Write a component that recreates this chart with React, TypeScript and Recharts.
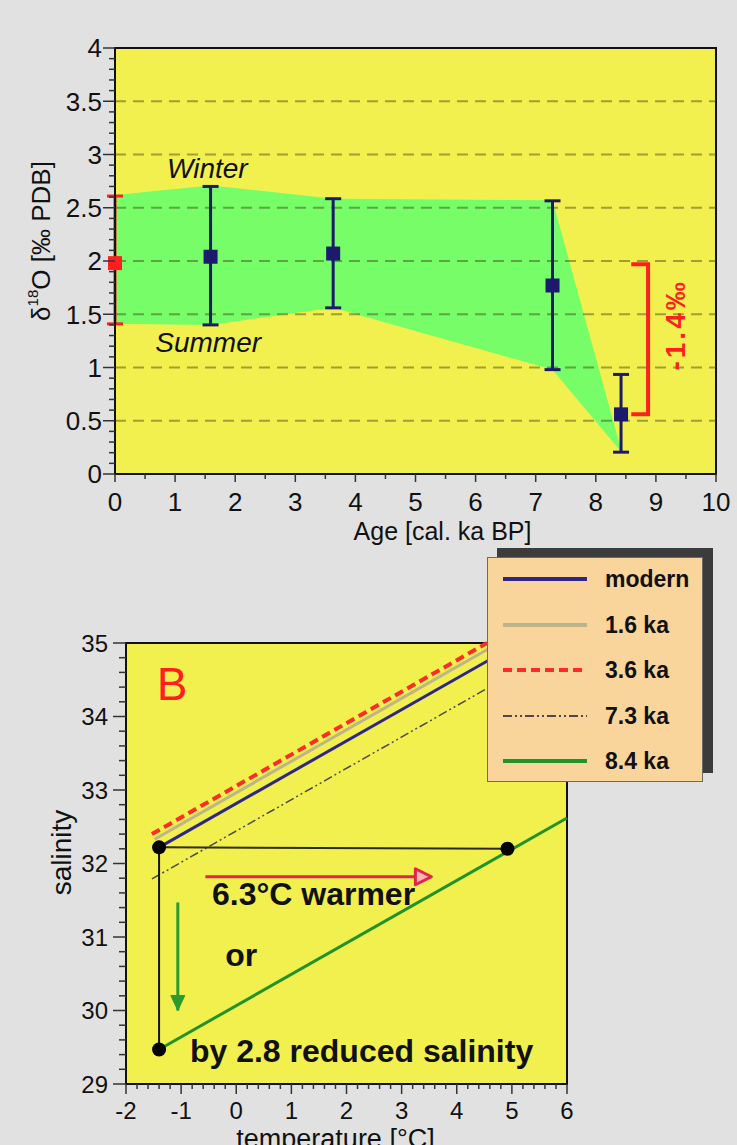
import {
  ComposedChart,
  XAxis,
  YAxis,
  CartesianGrid,
  Area,
  Line,
  Scatter,
  ErrorBar,
  ReferenceLine,
  ReferenceArea,
  ReferenceDot,
  Legend,
} from 'recharts'

// ---- panel A: d18O through the Holocene ----
const ages = [0, 1.59, 3.63, 7.28, 8.42]
const d18O = [1.98, 2.04, 2.07, 1.77, 0.56]
const d18OLow = [1.41, 1.4, 1.56, 0.98, 0.205]
const d18OHigh = [2.61, 2.7, 2.585, 2.565, 0.935]
// winter / summer envelope
const bandLow = [1.41, 1.4, 1.56, 0.98, 0.21]
const bandHigh = [2.62, 2.71, 2.585, 2.57, 0.23]

const bracketAge = [8.59, 8.87, 8.87, 8.59]
const bracketD18O = [1.97, 1.97, 0.56, 0.56]

const ageTicks = [0, 1, 2, 3, 4, 5, 6, 7, 8, 9, 10]
const d18OTicks = [0, 0.5, 1, 1.5, 2, 2.5, 3, 3.5, 4]
const d18OGrid = [0.5, 1, 1.5, 2, 2.5, 3, 3.5]

// ---- panel B: salinity vs temperature ----
const tempTicks = [-2, -1, 0, 1, 2, 3, 4, 5, 6]
const salTicks = [29, 30, 31, 32, 33, 34, 35]

const lineNames = ['modern', '1.6 ka', '3.6 ka', '7.3 ka', '8.4 ka']
const lineTemp = [[-1.4, 5.13], [-1.48, 4.76], [-1.53, 4.55], [-1.53, 6], [-1.4, 6]]
const lineSal = [[32.22, 35], [32.33, 35], [32.4, 35], [31.79, 35], [29.47, 32.62]]

const dotTemp = [-1.4, 4.92, -1.4]
const dotSal = [32.22, 32.2, 29.47]
const hTemp = [-1.4, 4.92]
const hSal = [32.22, 32.2]
const vTemp = [-1.4, -1.4]
const vSal = [32.22, 29.47]
const warmTemp = [-0.56, 3.54]
const warmSal = [31.82, 31.82]
const freshTemp = [-1.06, -1.06]
const freshSal = [31.47, 30.0]

const FONT = "'Liberation Sans', Arial, Helvetica, sans-serif"
const YELLOW = '#f2f04e'
const GREEN = '#76fd67'
const NAVY = '#1c1a6c'
const RED = '#ff1f1f'

const lineStyles = [
  { stroke: '#2e2688', width: 3, legendWidth: 4, dash: undefined as string | undefined },
  { stroke: '#bdb38c', width: 3, legendWidth: 4, dash: undefined },
  { stroke: '#ff2a2a', width: 4, legendWidth: 4, dash: '9 5' },
  { stroke: '#4a4a4a', width: 1.5, legendWidth: 2, dash: '9 3 2 3 2 3' },
  { stroke: '#22922a', width: 3, legendWidth: 4, dash: undefined },
]

const steps = (from: number, to: number, step: number) => {
  const n = Math.round((to - from) / step)
  const out: number[] = []
  for (let i = 0; i <= n; i++) out.push(Math.round((from + i * step) * 1000) / 1000)
  return out
}

const isMajor = (v: number, majors: number[]) => majors.some((m) => Math.abs(m - v) < 1e-6)

function makeYTick(majors: number[], fontSize: number, gap: number, major: number, minor: number) {
  return function YTick(props: any) {
    const { x, y, payload } = props
    const big = isMajor(payload.value, majors)
    return (
      <g>
        <line x1={x - (big ? major : minor)} x2={x} y1={y} y2={y} stroke="#333" strokeWidth={1.5} />
        {big && (
          <text x={x - gap} y={y} dy="0.36em" textAnchor="end" fontSize={fontSize} fill="#111">
            {payload.value}
          </text>
        )}
      </g>
    )
  }
}

function makeXTick(majors: number[], fontSize: number, base: number, major: number, minor: number) {
  return function XTick(props: any) {
    const { x, y, payload } = props
    const big = isMajor(payload.value, majors)
    return (
      <g>
        <line x1={x} x2={x} y1={y} y2={y + (big ? major : minor)} stroke="#333" strokeWidth={1.5} />
        {big && (
          <text x={x} y={y + base} textAnchor="middle" fontSize={fontSize} fill="#111">
            {payload.value}
          </text>
        )}
      </g>
    )
  }
}

const textAt = (label: string, attrs: any) => (p: any) => (
  <text x={p.cx} y={p.cy} fontFamily={FONT} {...attrs}>
    {label}
  </text>
)

const rotatedAt = (label: string, attrs: any) => (p: any) => (
  <text
    x={p.cx}
    y={p.cy}
    transform={`rotate(-90 ${p.cx} ${p.cy})`}
    textAnchor="middle"
    dominantBaseline="central"
    fontFamily={FONT}
    {...attrs}
  >
    {label}
  </text>
)

function arrowDot(color: string, dir: 'right' | 'down') {
  return (props: any) => {
    const { cx, cy, index } = props
    if (index !== 1) return <g key={`n${index}`} />
    const d =
      dir === 'right'
        ? `M${cx},${cy} L${cx - 16},${cy - 8} L${cx - 16},${cy + 8} Z`
        : `M${cx},${cy} L${cx - 7},${cy - 15} L${cx + 7},${cy - 15} Z`
    return dir === 'right' ? (
      <path key="head" d={d} fill="#f7b7b0" stroke={color} strokeWidth={3} strokeLinejoin="round" />
    ) : (
      <path key="head" d={d} fill={color} stroke={color} strokeWidth={1} />
    )
  }
}

function LegendBox(props: any) {
  const all = (props.payload ?? []) as any[]
  const items = lineNames
    .map((n) => all.find((it) => it.value === n))
    .filter(Boolean) as any[]
  return (
    <div style={{ position: 'relative', width: 216, height: 225, fontFamily: FONT }}>
      <div style={{ position: 'absolute', left: 10, top: -9, width: 216, height: 225, background: '#3b3b3b' }} />
      <div
        style={{
          position: 'absolute',
          left: 0,
          top: 0,
          width: 214,
          height: 223,
          background: '#f9d49b',
          border: '1px solid #6a6a6a',
        }}
      >
        {items.map((it, i) => {
          const st = lineStyles[lineNames.indexOf(it.value)]
          return (
            <div
              key={it.value}
              style={{ position: 'absolute', left: 15, top: 21 + i * 45.5 - 14, height: 28, display: 'flex', alignItems: 'center' }}
            >
              <svg width={84} height={8}>
                <line x1={0} y1={4} x2={84} y2={4} stroke={st.stroke} strokeWidth={st.legendWidth} strokeDasharray={st.dash} />
              </svg>
              <span style={{ marginLeft: 18, fontSize: 23, fontWeight: 700, color: '#111', lineHeight: '28px' }}>{it.value}</span>
            </div>
          )
        })}
      </div>
    </div>
  )
}

const bandRows = ages.map((a, i) => ({ age: a, band: [bandLow[i], bandHigh[i]] }))
const pointRows = ages.map((a, i) => ({ age: a, v: d18O[i], err: [d18O[i] - d18OLow[i], d18OHigh[i] - d18O[i]] }))
const bracketRows = bracketAge.map((a, i) => ({ age: a, v: bracketD18O[i] }))
const pair = (t: number[], s: number[]) => t.map((x, i) => ({ t: x, s: s[i] }))

const ageAll = steps(0, 10, 0.5)
const d18OAll = steps(0, 4, 0.1)
const tempAll = steps(-2, 6, 0.2)
const salAll = steps(29, 35, 0.2)

export default function App() {
  return (
    <div
      style={{
        position: 'absolute',
        left: 0,
        top: 0,
        width: 737,
        height: 1145,
        background: '#e1e1e1',
        overflow: 'hidden',
        fontFamily: FONT,
      }}
    >
      <div style={{ position: 'absolute', left: 0, top: 0 }}>
        <ComposedChart width={737} height={560} data={bandRows} margin={{ top: 48, right: 21, bottom: 16, left: 15 }}>
          <CartesianGrid fill={YELLOW} horizontal={false} vertical={false} />
          <XAxis
            dataKey="age"
            type="number"
            domain={[0, 10]}
            ticks={ageAll}
            interval={0}
            tickSize={0}
            tickMargin={0}
            tickLine={false}
            axisLine={{ stroke: '#111', strokeWidth: 2 }}
            tick={makeXTick(ageTicks, 26, 37, 8, 5)}
            height={70}
            label={{
              content: (p: any) => {
                const vb = p.viewBox ?? { x: 115, y: 474, width: 601, height: 70 }
                return (
                  <text x={vb.x + vb.width / 2 + 27} y={vb.y + 66} textAnchor="middle" fontSize={25} fill="#111">
                    Age [cal. ka BP]
                  </text>
                )
              },
            }}
          />
          <YAxis
            type="number"
            domain={[0, 4]}
            ticks={d18OAll}
            interval={0}
            tickSize={0}
            tickMargin={0}
            tickLine={false}
            axisLine={{ stroke: '#111', strokeWidth: 2 }}
            tick={makeYTick(d18OTicks, 26, 13, 12, 6)}
            width={100}
            label={{
              content: (p: any) => {
                const vb = p.viewBox ?? { x: 15, y: 48, width: 100, height: 426 }
                const cx = vb.x + 26
                const cy = vb.y + vb.height / 2 - 20
                return (
                  <text
                    x={cx}
                    y={cy}
                    transform={`rotate(-90 ${cx} ${cy})`}
                    textAnchor="middle"
                    dominantBaseline="central"
                    fontSize={26}
                    fill="#111"
                  >
                    δ<tspan dy={-9} fontSize={15}>18</tspan>
                    <tspan dy={9}>O [‰ PDB]</tspan>
                  </text>
                )
              },
            }}
          />
          <Area dataKey="band" type="linear" fill={GREEN} fillOpacity={1} stroke="none" isAnimationActive={false} />
          {d18OGrid.map((v) => (
            <ReferenceLine key={v} y={v} stroke="rgba(60,60,20,0.45)" strokeWidth={2} strokeDasharray="11 7" />
          ))}
          <Line
            data={bracketRows}
            dataKey="v"
            stroke={RED}
            strokeWidth={4}
            dot={false}
            legendType="none"
            isAnimationActive={false}
          />
          <Scatter
            data={pointRows.slice(0, 1)}
            dataKey="v"
            fill={RED}
            isAnimationActive={false}
            shape={(p: any) => <rect x={p.cx - 7} y={p.cy - 7} width={14} height={14} fill={RED} />}
          >
            <ErrorBar dataKey="err" direction="y" width={8} stroke={RED} strokeWidth={3} />
          </Scatter>
          <Scatter
            data={pointRows.slice(1)}
            dataKey="v"
            fill={NAVY}
            isAnimationActive={false}
            shape={(p: any) => <rect x={p.cx - 7} y={p.cy - 7} width={14} height={14} fill={NAVY} />}
          >
            <ErrorBar dataKey="err" direction="y" width={8} stroke={NAVY} strokeWidth={3} />
          </Scatter>
          <ReferenceDot x={0.865} y={2.78} r={0} shape={textAt('Winter', { fontSize: 28, fontStyle: 'italic', fill: '#111' })} />
          <ReferenceDot x={0.67} y={1.15} r={0} shape={textAt('Summer', { fontSize: 28, fontStyle: 'italic', fill: '#111' })} />
          <ReferenceDot
            x={9.32}
            y={1.4}
            r={0}
            shape={rotatedAt('-1.4‰', { fontSize: 28, fontWeight: 700, fill: RED, letterSpacing: 3 })}
          />
          <ReferenceArea x1={0} x2={10} y1={0} y2={4} fill="none" stroke="#111" strokeWidth={2} />
        </ComposedChart>
      </div>

      <div style={{ position: 'absolute', left: 0, top: 560 }}>
        <ComposedChart width={737} height={585} margin={{ top: 83, right: 170, bottom: 0, left: 26 }}>
          <CartesianGrid fill={YELLOW} horizontal={false} vertical={false} />
          <XAxis
            dataKey="t"
            type="number"
            domain={[-2, 6]}
            ticks={tempAll}
            interval={0}
            tickSize={0}
            tickMargin={0}
            tickLine={false}
            axisLine={{ stroke: '#111', strokeWidth: 2 }}
            tick={makeXTick(tempTicks, 24, 35, 10, 5)}
            height={61}
            label={{
              content: (p: any) => {
                const vb = p.viewBox ?? { x: 126, y: 524, width: 441, height: 61 }
                return (
                  <text x={vb.x + vb.width / 2 - 11} y={vb.y + 64} textAnchor="middle" fontSize={27} fill="#111">
                    temperature [°C]
                  </text>
                )
              },
            }}
          />
          <YAxis
            type="number"
            domain={[29, 35]}
            ticks={salAll}
            interval={0}
            tickSize={0}
            tickMargin={0}
            tickLine={false}
            axisLine={{ stroke: '#111', strokeWidth: 2 }}
            tick={makeYTick(salTicks, 24, 18, 13, 7)}
            width={100}
            label={{
              content: (p: any) => {
                const vb = p.viewBox ?? { x: 26, y: 83, width: 100, height: 441 }
                const cx = vb.x + 35
                const cy = vb.y + vb.height / 2 - 11
                return (
                  <text
                    x={cx}
                    y={cy}
                    transform={`rotate(-90 ${cx} ${cy})`}
                    textAnchor="middle"
                    dominantBaseline="central"
                    fontSize={28}
                    fill="#111"
                  >
                    salinity
                  </text>
                )
              },
            }}
          />
          {lineNames.map((name, i) => (
            <Line
              key={name}
              name={name}
              data={pair(lineTemp[i], lineSal[i])}
              dataKey="s"
              stroke={lineStyles[i].stroke}
              strokeWidth={lineStyles[i].width}
              strokeDasharray={lineStyles[i].dash}
              dot={false}
              isAnimationActive={false}
            />
          ))}
          <Line data={pair(hTemp, hSal)} dataKey="s" stroke="#2d2d10" strokeWidth={2} dot={false} legendType="none" isAnimationActive={false} />
          <Line data={pair(vTemp, vSal)} dataKey="s" stroke="#111" strokeWidth={2} dot={false} legendType="none" isAnimationActive={false} />
          <Line
            data={pair(warmTemp, warmSal)}
            dataKey="s"
            stroke="#e4234c"
            strokeWidth={3}
            dot={arrowDot('#e4234c', 'right')}
            legendType="none"
            isAnimationActive={false}
          />
          <Line
            data={pair(freshTemp, freshSal)}
            dataKey="s"
            stroke="#2c9a2c"
            strokeWidth={3}
            dot={arrowDot('#2c9a2c', 'down')}
            legendType="none"
            isAnimationActive={false}
          />
          <Scatter
            data={pair(dotTemp, dotSal)}
            dataKey="s"
            fill="#000"
            legendType="none"
            isAnimationActive={false}
            shape={(p: any) => <circle cx={p.cx} cy={p.cy} r={7} fill="#000" />}
          />
          <ReferenceDot x={-1.44} y={34.22} r={0} shape={textAt('B', { fontSize: 46, fill: RED })} />
          <ReferenceDot x={-0.44} y={31.44} r={0} shape={textAt('6.3°C warmer', { fontSize: 32, fontWeight: 700, fill: '#111' })} />
          <ReferenceDot x={-0.2} y={30.6} r={0} shape={textAt('or', { fontSize: 32, fontWeight: 700, fill: '#111' })} />
          <ReferenceDot
            x={-0.84}
            y={29.3}
            r={0}
            shape={textAt('by 2.8 reduced salinity', { fontSize: 32, fontWeight: 700, fill: '#111' })}
          />
          <ReferenceArea x1={-2} x2={6} y1={29} y2={35} fill="none" stroke="#111" strokeWidth={2} />
          <Legend
            content={LegendBox}
            layout="horizontal"
            verticalAlign="middle"
            align="center"
            wrapperStyle={{ left: 487, top: -3, width: 216, height: 225 }}
          />
        </ComposedChart>
      </div>
    </div>
  )
}
